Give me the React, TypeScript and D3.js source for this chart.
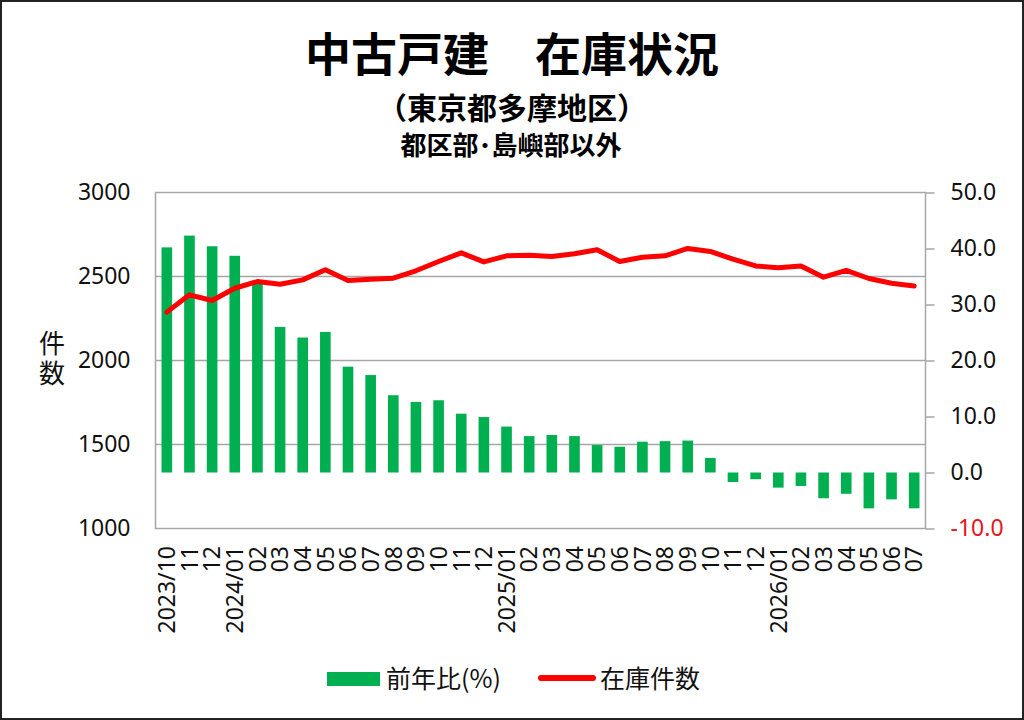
import * as d3 from "d3";
import React, { useEffect, useRef } from "react";

const months = [
    "2023/10", "2023/11", "2023/12",
    "2024/01", "2024/02", "2024/03", "2024/04", "2024/05", "2024/06",
    "2024/07", "2024/08", "2024/09", "2024/10", "2024/11", "2024/12",
    "2025/01", "2025/02", "2025/03", "2025/04", "2025/05", "2025/06",
    "2025/07", "2025/08", "2025/09", "2025/10", "2025/11", "2025/12",
    "2026/01", "2026/02", "2026/03", "2026/04", "2026/05", "2026/06", "2026/07",
];

const tickLabels = [
    "2023/10", "11", "12",
    "2024/01", "02", "03", "04", "05", "06", "07", "08", "09", "10", "11", "12",
    "2025/01", "02", "03", "04", "05", "06", "07", "08", "09", "10", "11", "12",
    "2026/01", "02", "03", "04", "05", "06", "07",
];

// 前年比 (%)
const yoyValues = [
    40.2, 42.3, 40.4, 38.7, 34.0, 26.0, 24.1, 25.1, 18.9, 17.4, 13.8, 12.6,
    12.9, 10.5, 9.9, 8.2, 6.5, 6.7, 6.5, 4.9, 4.6, 5.5, 5.6, 5.7, 2.6, -1.7,
    -1.2, -2.7, -2.4, -4.6, -3.8, -6.4, -4.8, -6.4,
];

// 在庫件数
const stockValues = [
    2288, 2391, 2357, 2430, 2470, 2454, 2480, 2540, 2476, 2484, 2490, 2534,
    2589, 2641, 2587, 2623, 2627, 2619, 2635, 2659, 2589, 2615, 2623, 2667,
    2649, 2603, 2563, 2552, 2563, 2496, 2536, 2488, 2460, 2444,
];

const leftTicks = [1000, 1500, 2000, 2500, 3000];
const rightTicks = [-10, 0, 10, 20, 30, 40, 50];

const W = 1024;
const H = 720;
const plot = { left: 155.5, right: 925.5, top: 192.5, bottom: 528.5 };

const numFont = "'Noto Sans', 'Noto Sans CJK JP', sans-serif";
const jpFont = "'Noto Sans CJK JP', sans-serif";
const barColour = "#00b050";
const lineColour = "#ff0000";
const gridColour = "#a6a6a6";

function App() {
    const svgRef: any = useRef<any>(null);

    useEffect(() => {
        draw();
    }, []);

    const draw = () => {
        const svg = d3.select(svgRef.current);
        svg.selectAll(".chart").remove();
        const g = svg.append("g").attr("class", "chart");

        const x = d3.scaleBand<string>()
            .domain(months)
            .range([plot.left, plot.right])
            .paddingInner(0.53)
            .paddingOuter(0.265);

        const yLeft = d3.scaleLinear().domain([1000, 3000]).range([plot.bottom, plot.top]);
        const yRight = d3.scaleLinear().domain([-10, 50]).range([plot.bottom, plot.top]);

        // gridlines
        g.append("g")
            .selectAll("line")
            .data(leftTicks.slice(1, -1))
            .join("line")
            .attr("x1", plot.left)
            .attr("x2", plot.right)
            .attr("y1", d => yLeft(d))
            .attr("y2", d => yLeft(d))
            .attr("stroke", gridColour)
            .attr("stroke-width", 1.5);

        // plot border
        g.append("rect")
            .attr("x", plot.left)
            .attr("y", plot.top)
            .attr("width", plot.right - plot.left)
            .attr("height", plot.bottom - plot.top)
            .attr("fill", "none")
            .attr("stroke", gridColour)
            .attr("stroke-width", 1.5);

        // bars
        g.append("g")
            .selectAll("rect")
            .data(yoyValues)
            .join("rect")
            .attr("x", (d, i) => x(months[i]) as number)
            .attr("width", x.bandwidth())
            .attr("y", d => yRight(Math.max(0, d)))
            .attr("height", d => Math.abs(yRight(d) - yRight(0)))
            .attr("fill", barColour);

        // line
        const line = d3.line<number>()
            .x((d, i) => (x(months[i]) as number) + x.bandwidth() / 2)
            .y(d => yLeft(d));

        g.append("path")
            .datum(stockValues)
            .attr("d", line)
            .attr("fill", "none")
            .attr("stroke", lineColour)
            .attr("stroke-width", 5)
            .attr("stroke-linejoin", "round")
            .attr("stroke-linecap", "round");

        // left axis
        const leftAxis = g.append("g")
            .attr("transform", `translate(${plot.left},0)`)
            .call(d3.axisLeft(yLeft).tickValues(leftTicks).tickSize(0).tickPadding(25).tickFormat(d3.format("d")));
        leftAxis.select(".domain").remove();
        leftAxis.selectAll("text")
            .attr("font-family", numFont)
            .attr("font-size", 23)
            .attr("fill", "#111");

        // right axis (plain hyphen for negatives, like the original)
        const fmt = (d: any) => (+d).toFixed(1);
        const rightAxis = g.append("g")
            .attr("transform", `translate(${plot.right},0)`)
            .call(d3.axisRight(yRight).tickValues(rightTicks).tickSize(9).tickPadding(16).tickFormat(fmt));
        rightAxis.select(".domain").remove();
        rightAxis.selectAll(".tick line")
            .attr("stroke", gridColour)
            .attr("stroke-width", 1.5);
        rightAxis.selectAll("text")
            .attr("font-family", numFont)
            .attr("font-size", 23)
            .attr("fill", (d: any) => d < 0 ? "#e8141c" : "#111");

        // x axis labels
        g.append("g")
            .selectAll("text")
            .data(tickLabels)
            .join("text")
            .attr("transform", (d, i) => `translate(${(x(months[i]) as number) + x.bandwidth() / 2},546) rotate(-90)`)
            .attr("text-anchor", "end")
            .attr("dy", "0.36em")
            .attr("font-family", numFont)
            .attr("font-size", 23)
            .attr("fill", "#111")
            .text(d => d);
    };

    return (
        <svg
            ref={svgRef}
            width={W}
            height={H}
            style={{ position: "absolute", left: 0, top: 0, background: "#fff" }}
        >
            <rect x={1} y={1} width={W - 2} height={H - 2} fill="#fff" stroke="#222" strokeWidth={2} />
            <text x={512} y={71} textAnchor="middle" fontFamily={jpFont} fontWeight={700} fontSize={46} fill="#000">
                中古戸建　在庫状況
            </text>
            <text x={512} y={119} textAnchor="middle" fontFamily={jpFont} fontWeight={700} fontSize={30} fill="#000">
                （東京都多摩地区）
            </text>
            <text x={511} y={155} textAnchor="middle" fontFamily={jpFont} fontWeight={700} fontSize={26} fill="#000">
                都区部･島嶼部以外
            </text>
            <text
                x={52}
                y={360}
                textAnchor="middle"
                fontFamily={jpFont}
                fontSize={26}
                letterSpacing={4}
                fill="#111"
                style={{ writingMode: "vertical-rl" }}
            >
                件数
            </text>

            {/* legend */}
            <rect x={327} y={672} width={53} height={14} fill={barColour} />
            <text x={386} y={688} fontFamily={jpFont} fontSize={25} fill="#111">前年比(%)</text>
            <line x1={541} x2={593} y1={678} y2={678} stroke={lineColour} strokeWidth={6} strokeLinecap="round" />
            <text x={600} y={688} fontFamily={jpFont} fontSize={25} fill="#111">在庫件数</text>
        </svg>
    );
}

export default App;
